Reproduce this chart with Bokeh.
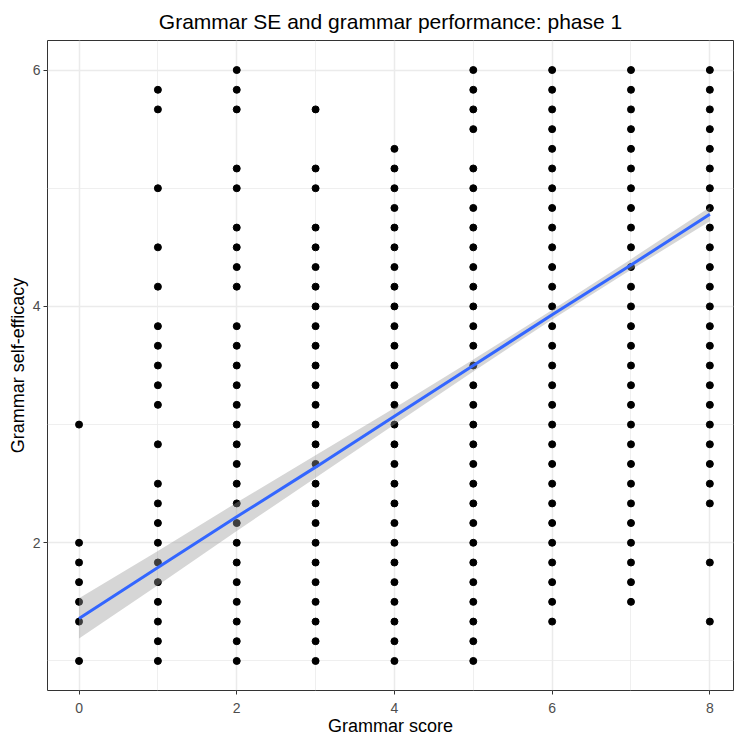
from bokeh.plotting import figure
from bokeh.models import Range1d, FixedTicker, ColumnDataSource
from bokeh.embed import file_html
from bokeh.resources import INLINE

# --- data (grammar score -> distinct self-efficacy values) ---
se_score0 = [3.0, 2.0, 1.833, 1.667, 1.5, 1.333, 1.0]
se_score1 = [5.833, 5.667, 5.0, 4.5, 4.167, 3.833, 3.667, 3.5, 3.333, 3.167, 2.833,
             2.5, 2.333, 2.167, 2.0, 1.833, 1.667, 1.5, 1.333, 1.167, 1.0]
se_score2 = [6.0, 5.833, 5.667, 5.167, 5.0, 4.667, 4.5, 4.333, 4.167, 3.833, 3.667, 3.5,
             3.333, 3.167, 3.0, 2.833, 2.667, 2.5, 2.333, 2.167, 2.0, 1.833, 1.667,
             1.5, 1.333, 1.167, 1.0]
se_score3 = [5.667, 5.167, 5.0, 4.667, 4.5, 4.333, 4.167, 4.0, 3.833, 3.667, 3.5,
             3.333, 3.167, 3.0, 2.833, 2.667, 2.5, 2.333, 2.167, 2.0, 1.833, 1.667,
             1.5, 1.333, 1.167, 1.0]
se_score4 = [5.333, 5.167, 5.0, 4.833, 4.667, 4.5, 4.333, 4.167, 4.0, 3.833, 3.667, 3.5,
             3.333, 3.167, 3.0, 2.833, 2.667, 2.5, 2.333, 2.167, 2.0, 1.833, 1.667,
             1.5, 1.333, 1.167, 1.0]
se_score5 = [6.0, 5.833, 5.667, 5.5, 5.167, 5.0, 4.833, 4.667, 4.5, 4.333, 4.167, 4.0,
             3.833, 3.667, 3.5, 3.333, 3.167, 3.0, 2.833, 2.667, 2.5, 2.333, 2.167,
             2.0, 1.833, 1.667, 1.5, 1.333, 1.167, 1.0]
se_score6 = [6.0, 5.833, 5.667, 5.5, 5.333, 5.167, 5.0, 4.833, 4.667, 4.5, 4.333, 4.167,
             4.0, 3.833, 3.667, 3.5, 3.333, 3.167, 3.0, 2.833, 2.667, 2.5, 2.333,
             2.167, 2.0, 1.833, 1.667, 1.5, 1.333]
se_score7 = [6.0, 5.833, 5.667, 5.5, 5.333, 5.167, 5.0, 4.833, 4.667, 4.5, 4.333, 4.167,
             4.0, 3.833, 3.667, 3.5, 3.333, 3.167, 3.0, 2.833, 2.667, 2.5, 2.333,
             2.167, 2.0, 1.833, 1.667, 1.5]
se_score8 = [6.0, 5.833, 5.667, 5.5, 5.333, 5.167, 5.0, 4.833, 4.667, 4.5, 4.333, 4.167,
             4.0, 3.833, 3.667, 3.5, 3.333, 3.167, 3.0, 2.833, 2.667, 2.5, 2.333,
             1.833, 1.333]

# linear fit with its confidence band
fit_x = [0, 1, 2, 3, 4, 5, 6, 7, 8]
fit_y = [1.36, 1.79, 2.22, 2.64, 3.07, 3.50, 3.93, 4.35, 4.78]
band_lower = [1.19, 1.64, 2.10, 2.55, 3.00, 3.45, 3.89, 4.31, 4.72]
band_upper = [1.53, 1.93, 2.34, 2.74, 3.14, 3.55, 3.97, 4.40, 4.84]

x_ticks = [0, 2, 4, 6, 8]
y_ticks = [2, 4, 6]

columns = [se_score0, se_score1, se_score2, se_score3, se_score4,
           se_score5, se_score6, se_score7, se_score8]
xs, ys = [], []
for score, vals in enumerate(columns):
    xs.extend([score] * len(vals))
    ys.extend(vals)
pts = ColumnDataSource(dict(x=xs, y=ys))
fit = ColumnDataSource(dict(x=fit_x, y=fit_y, lo=band_lower, hi=band_upper))

FONT = "Liberation Sans"
p = figure(width=734, height=740, output_backend="svg", toolbar_location=None,
           x_range=Range1d(-0.4, 8.3), y_range=Range1d(0.75, 6.25),
           min_border_left=47, min_border_right=1, min_border_top=40,
           min_border_bottom=50)
p.background_fill_color = "white"
p.border_fill_color = "white"
p.outline_line_color = "#333333"
p.outline_line_width = 1

p.title.text = "Grammar SE and grammar performance: phase 1"
p.title.align = "center"
p.title.text_font = FONT
p.title.text_font_style = "normal"
p.title.text_font_size = "21px"
p.title.text_color = "black"
p.title.standoff = 15

p.xaxis.ticker = FixedTicker(ticks=x_ticks, minor_ticks=[1, 3, 5, 7])
p.yaxis.ticker = FixedTicker(ticks=y_ticks, minor_ticks=[1, 3, 5])
p.xaxis.axis_label = "Grammar score"
p.yaxis.axis_label = "Grammar self-efficacy"
for ax in (p.xaxis[0], p.yaxis[0]):
    ax.axis_line_color = None
    ax.major_tick_line_color = "#333333"
    ax.major_tick_in = 0
    ax.major_tick_out = 4
    ax.minor_tick_line_color = None
    ax.major_label_text_font = FONT
    ax.major_label_text_font_size = "14px"
    ax.major_label_text_color = "#4D4D4D"
    ax.axis_label_text_font = FONT
    ax.axis_label_text_font_size = "18px"
    ax.axis_label_text_font_style = "normal"
    ax.axis_label_text_color = "black"
p.xaxis.major_label_standoff = 8
p.xaxis.axis_label_standoff = 0
p.yaxis.major_label_standoff = 3
p.yaxis.axis_label_standoff = 2

for g in (p.xgrid[0], p.ygrid[0]):
    g.grid_line_color = "#EBEBEB"
    g.grid_line_width = 1.5
    g.minor_grid_line_color = "#EBEBEB"
    g.minor_grid_line_width = 0.8

p.scatter("x", "y", source=pts, size=7, color="black")
p.varea(x="x", y1="lo", y2="hi", source=fit, fill_color="#999999", fill_alpha=0.4)
p.line("x", "y", source=fit, line_color="#3366FF", line_width=3)

open("out.html", "w").write(file_html(p, INLINE))
